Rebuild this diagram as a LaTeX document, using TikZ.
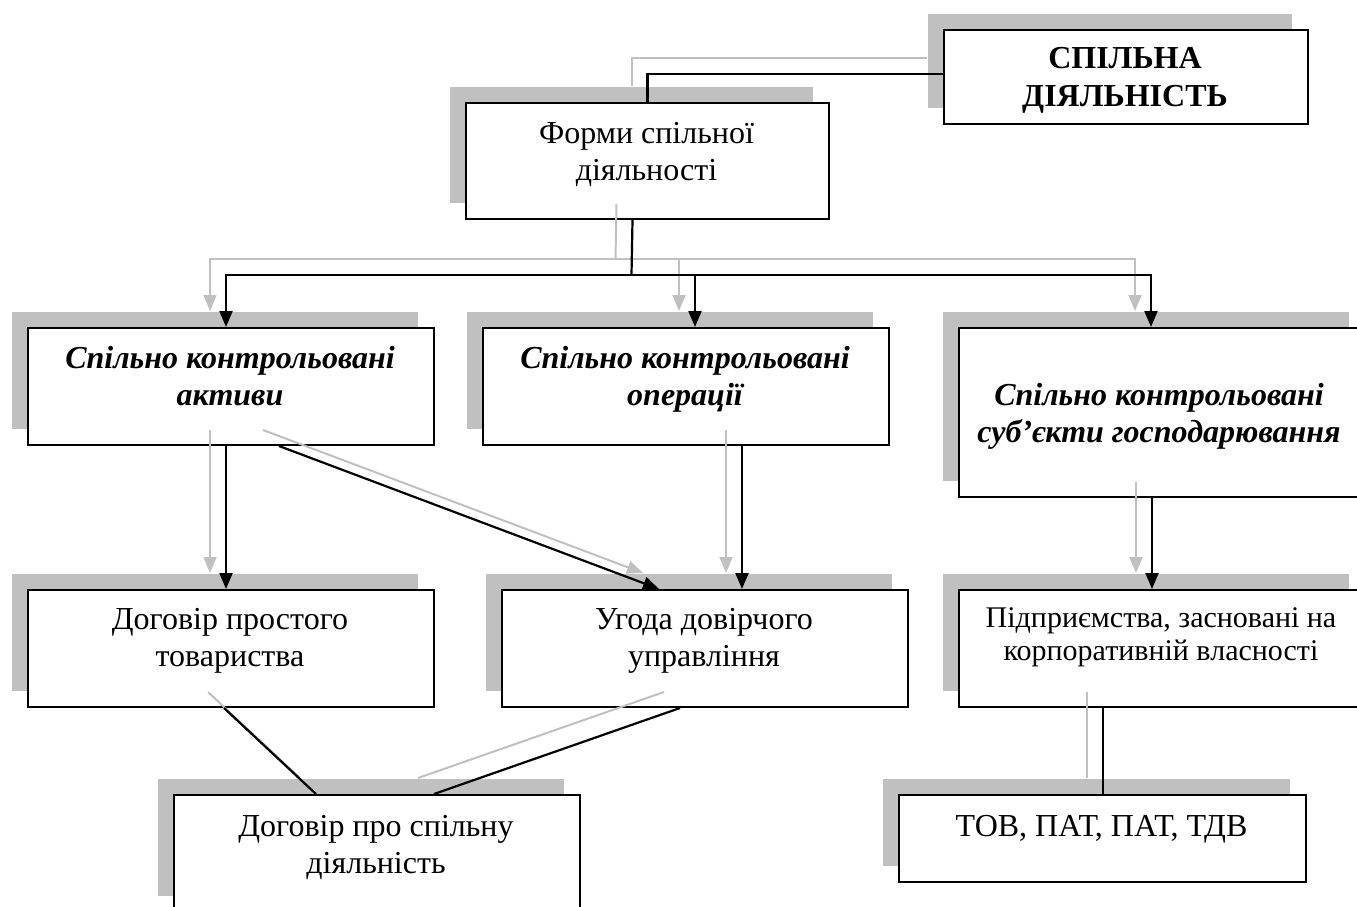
\documentclass[tikz,border=0pt]{standalone}
\usepackage{fontspec}
\setmainfont{Liberation Serif}
\usetikzlibrary{arrows.meta,shadows}
\definecolor{shade}{RGB}{192,192,192}
\begin{document}
\begin{tikzpicture}[x=1pt,y=-1pt,
  card/.style={draw=black, line width=2pt, fill=white, inner sep=0pt,
    anchor=north west,
    general shadow={shadow xshift=-16pt, shadow yshift=16pt, fill=shade, draw=none}},
  txt/.style={anchor=base, inner sep=0pt, font=\fontsize{32}{38}\selectfont},
  txtsmall/.style={anchor=base, inner sep=0pt, font=\fontsize{30}{33}\selectfont},
  txtbold/.style={txt, font=\fontsize{32}{38}\selectfont\bfseries},
  txtbi/.style={txt, font=\fontsize{32}{38}\selectfont\bfseries\itshape},
  bl/.style={draw=black, line width=2.2pt},
  gl/.style={draw=shade, line width=2pt},
  blarrow/.style={bl, -{Triangle[length=16pt,width=13pt]}},
  glarrow/.style={gl, -{Triangle[length=16pt,width=13pt]}},
  sh/.style={shift={(-16,-16)}}
]
\useasboundingbox (0,0) rectangle (1357,907);
\clip (0,0) rectangle (1357,907);

% boxes with their grey offset shadows
\node[card, minimum width=364pt, minimum height=94pt]  (head)   at (943,29)  {};
\node[card, minimum width=363pt, minimum height=116pt] (forms)  at (465,102) {};
\node[card, minimum width=406pt, minimum height=117pt] (assets) at (27,327)  {};
\node[card, minimum width=406pt, minimum height=117pt] (ops)    at (482,327) {};
\node[card, minimum width=406pt, minimum height=169pt] (ents)   at (958,327) {};
\node[card, minimum width=406pt, minimum height=117pt] (simple) at (27,589)  {};
\node[card, minimum width=406pt, minimum height=117pt] (trust)  at (501,589) {};
\node[card, minimum width=406pt, minimum height=117pt] (corp)   at (958,589) {};
\node[card, minimum width=406pt, minimum height=117pt] (joint)  at (173,794) {};
\node[card, minimum width=407pt, minimum height=87pt]  (llc)    at (898,794) {};

% box texts
\node[txtbold] (head-a) at (1125,68)  {СПІЛЬНА};
\node[txtbold] (head-b) at (1125,106) {ДІЯЛЬНІСТЬ};
\node[txt] (forms-a) at (646.5,143) {Форми спільної};
\node[txt] (forms-b) at (646.5,180) {діяльності};
\node[txtbi] (assets-a) at (230,368) {Спільно контрольовані};
\node[txtbi] (assets-b) at (230,405) {активи};
\node[txtbi] (ops-a) at (685,368) {Спільно контрольовані};
\node[txtbi] (ops-b) at (685,405) {операції};
\node[txtbi] (ents-a) at (1159,405) {Спільно контрольовані};
\node[txtbi] (ents-b) at (1159,442) {суб’єкти господарювання};
\node[txt] (simple-a) at (230,629) {Договір простого};
\node[txt] (simple-b) at (230,666) {товариства};
\node[txt] (trust-a) at (704,629) {Угода довірчого};
\node[txt] (trust-b) at (704,666) {управління};
\node[txtsmall] (corp-a) at (1161,627) {Підприємства, засновані на};
\node[txtsmall] (corp-b) at (1161,660) {корпоративній власності};
\node[txt] (llc-a) at (1101.5,836) {ТОВ, ПАТ, ПАТ, ТДВ};
\node[txt] (joint-a) at (376,836) {Договір про спільну};
\node[txt] (joint-b) at (376,873) {діяльність};

% branching point under the forms box
\coordinate (bus) at (631.5,275);

% grey shadow connectors
\draw[gl] ([sh,yshift=3pt]head.west) -| ([sh]forms.north);
\draw[gl] ([sh,xshift=-15pt]forms.south) -- ([sh]bus);
\draw[glarrow] ([sh]bus) -| ([sh,xshift=-5pt]assets.north);
\draw[glarrow] ([sh]bus) -| ([sh,xshift=9pt]ops.north);
\draw[glarrow] ([sh]bus) -| ([sh,xshift=-11pt]ents.north);
\draw[glarrow] ([sh,xshift=-5pt]assets.south) -- ([sh,xshift=-5pt]simple.north);
\draw[glarrow] ([sh,xshift=48pt]assets.south) -- ([sh,xshift=-46pt]trust.north);
\draw[glarrow] ([sh,xshift=56pt]ops.south) -- ([sh,xshift=37pt]trust.north);
\draw[glarrow] ([sh,xshift=-10pt]ents.south) -- ([sh,xshift=-10pt]corp.north);
\draw[gl] ([sh,xshift=-59pt]corp.south) -- ([sh,xshift=0.5pt]llc.north);
\draw[gl] ([sh,xshift=-7pt]simple.south) -- ([sh,xshift=-61pt]joint.north);
\draw[gl] ([sh,xshift=-25pt]trust.south) -- ([sh,xshift=57pt]joint.north);

% black connectors
\draw[bl] ([yshift=3pt]head.west) -| (forms.north);
\draw[bl] ([xshift=-15pt]forms.south) -- (bus);
\draw[blarrow] (bus) -| ([xshift=-5pt]assets.north);
\draw[blarrow] (bus) -| ([xshift=9pt]ops.north);
\draw[blarrow] (bus) -| ([xshift=-11pt]ents.north);
\draw[blarrow] ([xshift=-5pt]assets.south) -- ([xshift=-5pt]simple.north);
\draw[blarrow] ([xshift=48pt]assets.south) -- ([xshift=-46pt]trust.north);
\draw[blarrow] ([xshift=56pt]ops.south) -- ([xshift=37pt]trust.north);
\draw[blarrow] ([xshift=-10pt]ents.south) -- ([xshift=-10pt]corp.north);
\draw[bl] ([xshift=-59pt]corp.south) -- ([xshift=0.5pt]llc.north);
\draw[bl] ([xshift=-7pt]simple.south) -- ([xshift=-61pt]joint.north);
\draw[bl] ([xshift=-25pt]trust.south) -- ([xshift=57pt]joint.north);
\end{tikzpicture}
\end{document}
